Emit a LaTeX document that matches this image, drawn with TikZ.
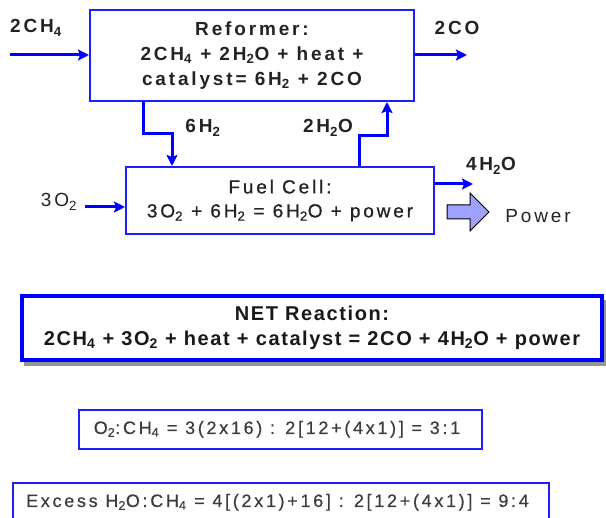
\documentclass[tikz,border=0pt]{standalone}
\usepackage{fontspec}
\setmainfont{Liberation Sans}
\newfontfamily\fsp[LetterSpace=15]{Liberation Sans}
\newfontfamily\fmed[LetterSpace=15,FakeBold=0.8]{Liberation Sans}
\newfontfamily\frt[LetterSpace=15,FakeBold=0.4]{Liberation Sans}
\newfontfamily\fnet[LetterSpace=8]{Liberation Sans}
\usetikzlibrary{arrows.meta}
\definecolor{lineblue}{RGB}{0,0,255}
\definecolor{boxblue}{RGB}{30,30,255}
\definecolor{txtgray}{RGB}{35,35,35}
\definecolor{txtlight}{RGB}{60,60,60}
\definecolor{pwrfill}{RGB}{160,160,255}
\definecolor{shadowgray}{RGB}{150,150,150}
\newcommand\dn[1]{\textsubscript{#1}}
\begin{document}
\begin{tikzpicture}[x=1pt,y=-1pt,
  flow/.style={draw=lineblue, line width=3pt, -{Stealth[length=11pt,width=11pt,inset=2pt]}},
  blk/.style={draw=boxblue, line width=2pt, align=center, text=txtgray, inner sep=0pt},
  lbl/.style={font=\fsp\bfseries\fontsize{19}{24}\selectfont, text=txtgray, anchor=base, inner sep=0pt},
  lblr/.style={font=\fsp\fontsize{19}{24}\selectfont, text=txtgray, anchor=base, inner sep=0pt},
  ratiobox/.style={draw=boxblue, line width=1.5pt},
  ratiotxt/.style={text=txtlight, inner sep=0pt, anchor=base, font=\frt\fontsize{18}{24}\selectfont}
]
\useasboundingbox (0,0) rectangle (606,518);

% Reformer and fuel cell
\node[blk, minimum width=324pt, minimum height=91pt,
      font=\fsp\bfseries\fontsize{19}{25}\selectfont] (ref) at (252,55.5)
  {Reformer:\\2CH\dn4 + 2H\dn2O + heat +\\catalyst= 6H\dn2 + 2CO};
\node[blk, minimum width=308pt, minimum height=67pt,
      font=\fmed\fontsize{19}{24}\selectfont] (fc) at (280,200.5)
  {Fuel Cell:\\3O\dn2 + 6H\dn2 = 6H\dn2O + power};

% labels
\node[lbl] (lch4) at (36,33) {2CH\dn4};
\node[lbl] (lco) at (457,35) {2CO};
\node[lbl] (lh2) at (203,133) {6H\dn2};
\node[lbl] (lh2o) at (328,133) {2H\dn2O};
\node[lbl] (lh2o4) at (491,171) {4H\dn2O};
\node[lblr] (lo2) at (59,207) {3O\dn2};
\node[lblr] (lpow) at (538,223) {Power};

% connectors
\coordinate (ch4in) at (10,55);
\coordinate (coout) at (467,55);
\coordinate (h2a) at (143,134);
\coordinate (h2b) at (172,134);
\coordinate (wa) at (359,136);
\coordinate (wb) at (387,136);
\coordinate (o2in) at (85,207);
\coordinate (wout) at (473,184);

\draw[flow] (ch4in) -- (ch4in -| ref.west);
\draw[flow] (coout -| ref.east) -- (coout);
\draw[flow] (ref.south -| h2a) -- (h2a) -- (h2b) -- (fc.north -| h2b);
\draw[flow] (fc.north -| wa) -- (wa) -- (wb) -- (ref.south -| wb);
\draw[flow] (o2in) -- (o2in -| fc.west);
\draw[flow] (wout -| fc.east) -- (wout);

% power block arrow
\draw[fill=pwrfill, draw=black, line width=1pt, line join=miter]
  (447,205) -- (470,205) -- (470,193) -- (489,212) -- (470,231) -- (470,219) -- (447,219) -- cycle;

% net reaction (shadow first, then box)
\fill[shadowgray] (24,300) rectangle (607,366);
\node[draw=lineblue, line width=4pt, fill=white, align=center, inner sep=0pt,
      minimum width=580pt, minimum height=64pt, text=black!90,
      font=\fnet\bfseries\fontsize{20}{25}\selectfont] (net) at (312,328)
  {NET Reaction:\\2CH\dn4 + 3O\dn2 + heat + catalyst = 2CO + 4H\dn2O + power};

% ratios
\node[ratiobox, minimum width=403pt, minimum height=39pt] (o2b) at (280.5,429.5) {};
\node[ratiotxt] (o2t) at (277,434) {O\dn2:CH\dn4 = 3(2x16) : 2[12+(4x1)] = 3:1};
\node[ratiobox, minimum width=536pt, minimum height=38pt] (exb) at (281,502) {};
\node[ratiotxt] (ext) at (277.5,507) {Excess H\dn2O:CH\dn4 = 4[(2x1)+16] : 2[12+(4x1)] = 9:4};
\end{tikzpicture}
\end{document}
